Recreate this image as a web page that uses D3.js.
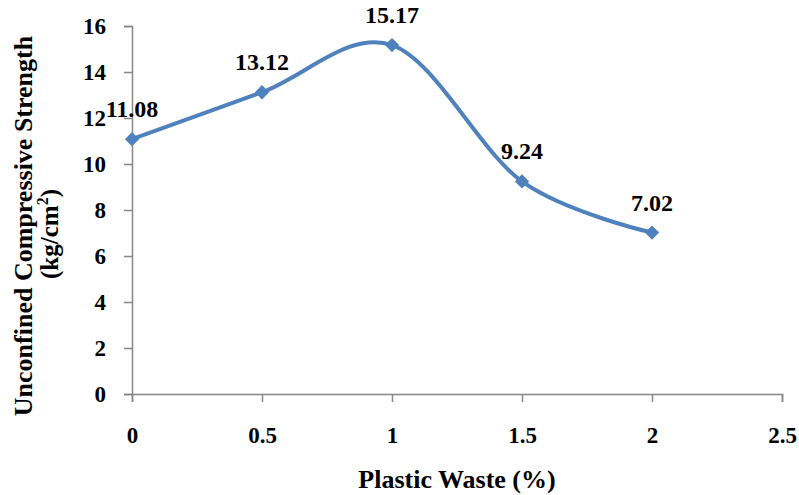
<!DOCTYPE html>
<html>
<head>
<meta charset="utf-8">
<script src="https://cdn.jsdelivr.net/npm/d3@7"></script>
<style>
  html, body { margin: 0; padding: 0; background: #fff; }
  svg text { font-family: "Liberation Serif", "Times New Roman", serif; font-weight: bold; fill: #000; }
</style>
</head>
<body>
<svg id="chart" width="799" height="495"></svg>
<script>
// Plastic waste content (%) and unconfined compressive strength (kg/cm²)
const plasticWaste = [0, 0.5, 1, 1.5, 2];
const strength = [11.08, 13.12, 15.17, 9.24, 7.02];
const xTicks = [0, 0.5, 1, 1.5, 2, 2.5];
const yTicks = [0, 2, 4, 6, 8, 10, 12, 14, 16];

const svg = d3.select("#chart");
const plotLeft = 132, plotRight = 782, plotTop = 26, plotBottom = 394;

const x = d3.scaleLinear().domain([0, 2.5]).range([plotLeft, plotRight]);
const y = d3.scaleLinear().domain([0, 16]).range([plotBottom, plotTop]);

const axisColor = "#878787";

// Y axis
const yAxis = svg.append("g")
  .attr("transform", `translate(${plotLeft},0)`)
  .call(d3.axisLeft(y).tickValues(yTicks).tickSize(8).tickPadding(18).tickFormat(d3.format("d")));
yAxis.select(".domain").attr("stroke", axisColor).attr("stroke-width", 1.5);
yAxis.selectAll(".tick line").attr("stroke", axisColor).attr("stroke-width", 1.5);
yAxis.selectAll(".tick text").attr("font-size", 23).style("font-family", "Liberation Serif").style("font-weight", "bold").attr("fill", "#000");

// X axis
const xAxis = svg.append("g")
  .attr("transform", `translate(0,${plotBottom})`)
  .call(d3.axisBottom(x).tickValues(xTicks).tickSize(8).tickFormat(d => d));
xAxis.select(".domain").attr("stroke", axisColor).attr("stroke-width", 1.5);
xAxis.selectAll(".tick line").attr("stroke", axisColor).attr("stroke-width", 1.5);
xAxis.selectAll(".tick text")
  .attr("y", 49).attr("dy", 0)
  .attr("font-size", 23).style("font-family", "Liberation Serif").style("font-weight", "bold").attr("fill", "#000");

// Axis titles
svg.append("text")
  .attr("x", 457)
  .attr("y", 488)
  .attr("text-anchor", "middle")
  .attr("font-size", 26)
  .text("Plastic Waste (%)");

svg.append("text")
  .attr("transform", "translate(32,226) rotate(-90)")
  .attr("text-anchor", "middle")
  .attr("font-size", 26)
  .text("Unconfined Compressive Strength");
const yTitle2 = svg.append("text")
  .attr("transform", "translate(58,234) rotate(-90)")
  .attr("text-anchor", "middle")
  .attr("font-size", 25);
yTitle2.append("tspan").text("(kg/cm");
yTitle2.append("tspan").attr("dy", -10).attr("font-size", 16).text("2");
yTitle2.append("tspan").attr("dy", 10).text(")");

// Smoothed series line
const pts = plasticWaste.map((v, i) => [v, strength[i]]);
const line = d3.line()
  .x(d => x(d[0]))
  .y(d => y(d[1]))
  .curve(d3.curveCatmullRom.alpha(0));
svg.append("path")
  .datum(pts)
  .attr("d", line)
  .attr("fill", "none")
  .attr("stroke", "#4F81BD")
  .attr("stroke-width", 4);

// Diamond markers
svg.selectAll(".marker")
  .data(pts)
  .enter().append("path")
  .attr("class", "marker")
  .attr("d", d3.symbol(d3.symbolDiamond2, 130))
  .attr("transform", d => `translate(${x(d[0])},${y(d[1])})`)
  .attr("fill", "#4F81BD");

// Value labels
svg.selectAll(".label")
  .data(pts)
  .enter().append("text")
  .attr("class", "label")
  .attr("x", d => x(d[0]))
  .attr("y", d => y(d[1]) - 22)
  .attr("text-anchor", "middle")
  .attr("font-size", 24)
  .text(d => d[1].toFixed(2));
</script>
</body>
</html>
